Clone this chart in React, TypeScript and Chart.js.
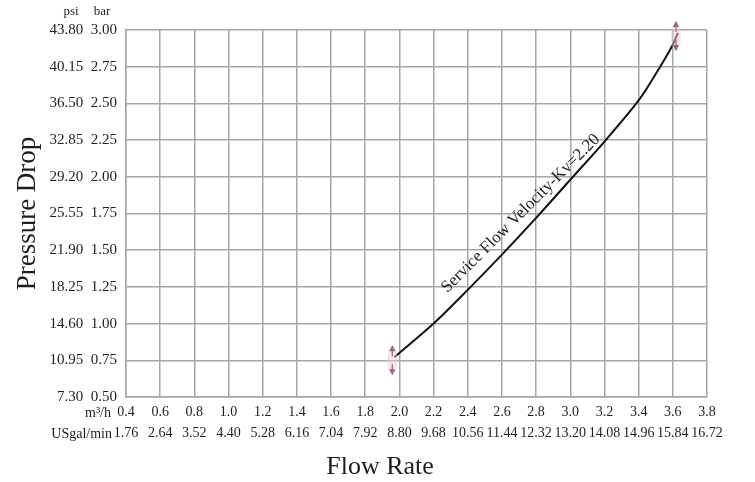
import { useEffect, useRef } from 'react';
import { Chart, registerables } from 'chart.js';

Chart.register(...registerables);

// ---- data ----
const flowRateM3h = [1.97, 2.2, 2.4, 2.6, 2.8, 3.0, 3.2, 3.4, 3.5, 3.6, 3.63];
const pressureDropBar = [0.77, 1.0, 1.23, 1.47, 1.72, 1.98, 2.24, 2.52, 2.7, 2.9, 2.98];

const flowTicks = [0.4, 0.6, 0.8, 1.0, 1.2, 1.4, 1.6, 1.8, 2.0, 2.2, 2.4, 2.6, 2.8, 3.0, 3.2, 3.4, 3.6, 3.8];
const flowTickM3hLabels = ['0.4', '0.6', '0.8', '1.0', '1.2', '1.4', '1.6', '1.8', '2.0', '2.2', '2.4', '2.6', '2.8', '3.0', '3.2', '3.4', '3.6', '3.8'];
const flowTickUsgalLabels = ['1.76', '2.64', '3.52', '4.40', '5.28', '6.16', '7.04', '7.92', '8.80', '9.68', '10.56', '11.44', '12.32', '13.20', '14.08', '14.96', '15.84', '16.72'];

const pressureTicks = [0.5, 0.75, 1.0, 1.25, 1.5, 1.75, 2.0, 2.25, 2.5, 2.75, 3.0];
const pressureTickBarLabels = ['0.50', '0.75', '1.00', '1.25', '1.50', '1.75', '2.00', '2.25', '2.50', '2.75', '3.00'];
const pressureTickPsiLabels = ['7.30', '10.95', '14.60', '18.25', '21.90', '25.55', '29.20', '32.85', '36.50', '40.15', '43.80'];

const curveLabel = 'Service Flow Velocity-Kv=2.20';
const curveLabelAt = { x: 2.71, y: 1.75 };

const SERIF = "'Liberation Serif', 'Times New Roman', serif";
const TEXT = '#1e1e1e';
const GRID = '#a6a6a6';

const extrasPlugin = {
  id: 'extras',
  afterDraw(chart: any) {
    const { ctx, scales } = chart;
    const x = scales.x;
    const y = scales.y;
    ctx.save();
    ctx.fillStyle = TEXT;
    ctx.font = `13px ${SERIF}`;
    ctx.textBaseline = 'middle';
    ctx.textAlign = 'center';
    ctx.fillText('psi', 71, y.top - 18);
    ctx.fillText('bar', 102, y.top - 18);
    ctx.font = `14px ${SERIF}`;
    ctx.textAlign = 'right';
    ctx.fillText('m³/h', 111, x.top + 16);
    ctx.fillText('USgal/min', 112, x.top + 37);

    // x axis title (offset left of the plot centre, as in the reference)
    ctx.font = `26px ${SERIF}`;
    ctx.textAlign = 'center';
    ctx.fillText('Flow Rate', 380, x.bottom - 15);

    // curve label
    const px = x.getPixelForValue(curveLabelAt.x);
    const py = y.getPixelForValue(curveLabelAt.y);
    ctx.translate(px, py);
    ctx.rotate((-45 * Math.PI) / 180);
    ctx.font = `17px ${SERIF}`;
    ctx.textAlign = 'center';
    ctx.fillText(curveLabel, 0, 0);
    ctx.restore();

    // end markers (double arrows)
    const meta = chart.getDatasetMeta(0);
    const pts = [meta.data[0], meta.data[meta.data.length - 1]];
    ctx.save();
    for (const p of pts) {
      const cx = p.x - 2;
      const cy = p.y + 3;
      ctx.fillStyle = 'rgba(238,200,218,0.5)';
      ctx.beginPath();
      ctx.ellipse(cx, cy, 5, 15, 0, 0, Math.PI * 2);
      ctx.fill();
      ctx.fillStyle = '#8e6a82';
      ctx.strokeStyle = '#8e6a82';
      ctx.lineWidth = 1.2;
      ctx.beginPath();
      ctx.moveTo(cx, cy - 4);
      ctx.lineTo(cx, cy - 13);
      ctx.stroke();
      ctx.beginPath();
      ctx.moveTo(cx, cy - 15);
      ctx.lineTo(cx - 3, cy - 9);
      ctx.lineTo(cx + 3, cy - 9);
      ctx.closePath();
      ctx.fill();
      ctx.beginPath();
      ctx.moveTo(cx, cy + 4);
      ctx.lineTo(cx, cy + 13);
      ctx.stroke();
      ctx.beginPath();
      ctx.moveTo(cx, cy + 15);
      ctx.lineTo(cx - 3, cy + 9);
      ctx.lineTo(cx + 3, cy + 9);
      ctx.closePath();
      ctx.fill();
    }
    ctx.restore();
  },
};

export default function App() {
  const ref = useRef<HTMLCanvasElement>(null);

  useEffect(() => {
    if (!ref.current) return;
    const chart = new Chart(ref.current, {
      type: 'line',
      data: {
        datasets: [
          {
            label: curveLabel,
            data: flowRateM3h.map((q, i) => ({ x: q, y: pressureDropBar[i] })),
            borderColor: '#111',
            borderWidth: 2,
            pointRadius: 0,
            tension: 0.3,
            fill: false,
          },
        ],
      },
      options: {
        animation: false,
        responsive: true,
        maintainAspectRatio: false,
        layout: { padding: { left: 0, top: 30, right: 48, bottom: 0 } },
        plugins: { legend: { display: false }, tooltip: { enabled: false } },
        scales: {
          x: {
            type: 'linear',
            min: 0.4,
            max: 3.8,
            afterBuildTicks: (s: any) => {
              s.ticks = flowTicks.map((v) => ({ value: v }));
            },
            afterFit: (s: any) => {
              s.height = 85;
            },
            grid: { color: GRID, lineWidth: 1.5, drawTicks: false },
            border: { color: GRID, width: 1.5 },
            ticks: {
              padding: 5,
              maxRotation: 0,
              autoSkip: false,
              color: TEXT,
              font: { family: SERIF, size: 14, lineHeight: 1.5 },
              callback: (_v: any, i: number) => [flowTickM3hLabels[i], flowTickUsgalLabels[i]],
            },
            title: { display: false },
          },
          y: {
            type: 'linear',
            min: 0.5,
            max: 3.0,
            afterBuildTicks: (s: any) => {
              s.ticks = pressureTicks.map((v) => ({ value: v }));
            },
            afterFit: (s: any) => {
              s.width = 126;
            },
            grid: { color: GRID, lineWidth: 1.5, drawTicks: false },
            border: { color: GRID, width: 1.5 },
            ticks: {
              padding: 9,
              autoSkip: false,
              color: TEXT,
              font: { family: SERIF, size: 15 },
              callback: (_v: any, i: number) => `${pressureTickPsiLabels[i]}  ${pressureTickBarLabels[i]}`,
            },
            title: {
              display: true,
              text: 'Pressure Drop',
              color: TEXT,
              font: { family: SERIF, size: 27 },
              padding: { top: 12, bottom: 0 },
            },
          },
        },
      },
      plugins: [extrasPlugin],
    });
    return () => chart.destroy();
  }, []);

  return (
    <div style={{ position: 'fixed', left: 0, top: 0, width: 755, height: 482, background: '#fff' }}>
      <canvas ref={ref} />
    </div>
  );
}
